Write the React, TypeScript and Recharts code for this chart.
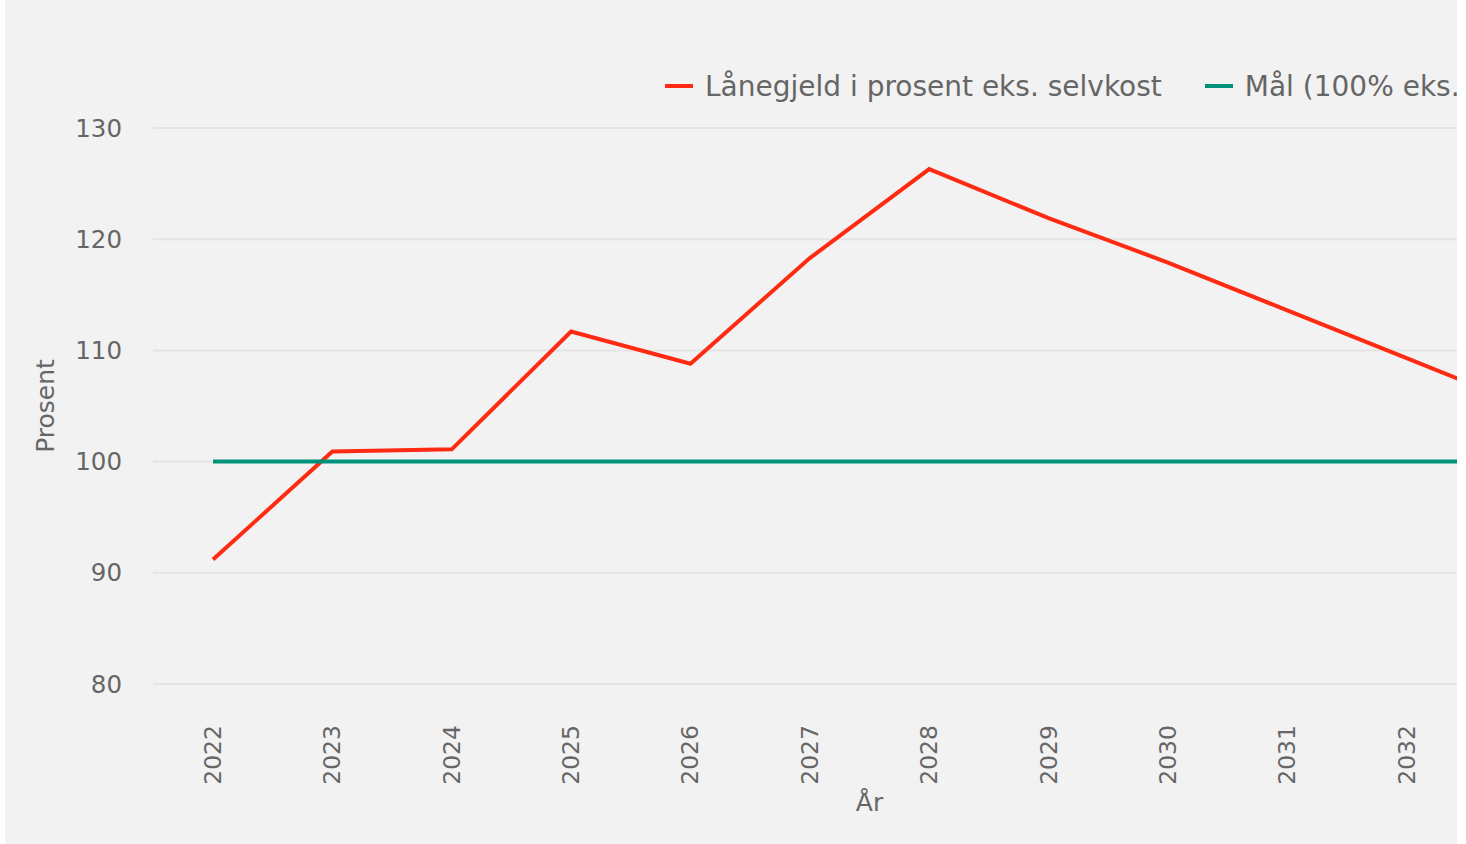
import { LineChart, Line, XAxis, YAxis, CartesianGrid } from 'recharts';

// År og verdier lest av figuren
const years = ['2022', '2023', '2024', '2025', '2026', '2027', '2028', '2029', '2030', '2031', '2032', '2033'];
const debtShare = [91.2, 100.9, 101.1, 111.7, 108.8, 118.3, 126.3, 121.9, 117.9, 113.6, 109.3, 105.0];
const targetShare = [100, 100, 100, 100, 100, 100, 100, 100, 100, 100, 100, 100];
const yTicks = [80, 90, 100, 110, 120, 130];

const series = [
  { key: 'debt', name: 'Lånegjeld i prosent eks. selvkost', color: '#ff2a12' },
  { key: 'target', name: 'Mål (100% eks. selvkost)', color: '#00917b' },
];

const data = years.map((year, i) => ({ year, debt: debtShare[i], target: targetShare[i] }));

const TEXT = '#666666';

function XTick({ x, y, payload }: any) {
  return (
    <text
      x={x}
      y={y}
      transform={`rotate(-90, ${x}, ${y})`}
      textAnchor="end"
      dominantBaseline="central"
      fill={TEXT}
      fontSize={23.5}
    >
      {payload.value}
    </text>
  );
}

function YTitle(props: any) {
  const vb = props.viewBox || {};
  const cy = (vb.y ?? 128) + (vb.height ?? 556) / 2;
  const x = 40;
  return (
    <text x={x} y={cy} transform={`rotate(-90, ${x}, ${cy})`} textAnchor="middle" dominantBaseline="central" fill={TEXT} fontSize={25}>
      Prosent
    </text>
  );
}

export default function App() {
  return (
    <div
      style={{
        position: 'absolute',
        top: 0,
        left: 5,
        width: 1452,
        height: 844,
        overflow: 'hidden',
        background: '#f2f2f2',
        fontFamily: '"DejaVu Sans", sans-serif',
      }}
    >
      <LineChart width={1600} height={844} data={data} margin={{ top: 128, right: 19, bottom: 0, left: 0 }}>
        <CartesianGrid vertical={false} stroke="#e4e4e4" strokeWidth={2} />
        <XAxis
          dataKey="year"
          interval={0}
          padding={{ left: 60, right: 60 }}
          axisLine={false}
          tickLine={false}
          tickSize={0}
          tickMargin={41}
          height={160}
          tick={<XTick />}
          label={{ value: 'År', position: 'insideBottom', offset: 33, fill: TEXT, fontSize: 25 }}
        />
        <YAxis
          width={148}
          domain={[80, 130]}
          ticks={yTicks}
          axisLine={false}
          tickLine={false}
          tickSize={0}
          tickMargin={31}
          tick={{ fill: TEXT, fontSize: 24.5 }}
          label={(p: any) => <YTitle {...p} />}
        />
        {series.map((s) => (
          <Line
            key={s.key}
            type="linear"
            dataKey={s.key}
            name={s.name}
            stroke={s.color}
            strokeWidth={4}
            dot={false}
            activeDot={false}
            isAnimationActive={false}
          />
        ))}
      </LineChart>

      {/* Legende */}
      <div
        style={{
          position: 'absolute',
          left: 660,
          top: 66,
          height: 40,
          display: 'flex',
          alignItems: 'center',
          whiteSpace: 'nowrap',
          color: TEXT,
          fontSize: 28,
        }}
      >
        {series.map((s) => (
          <div key={s.key} style={{ display: 'flex', alignItems: 'center', marginRight: 43 }}>
            <span style={{ width: 28, height: 4, background: s.color, marginRight: 12 }} />
            <span>{s.name}</span>
          </div>
        ))}
      </div>
    </div>
  );
}
